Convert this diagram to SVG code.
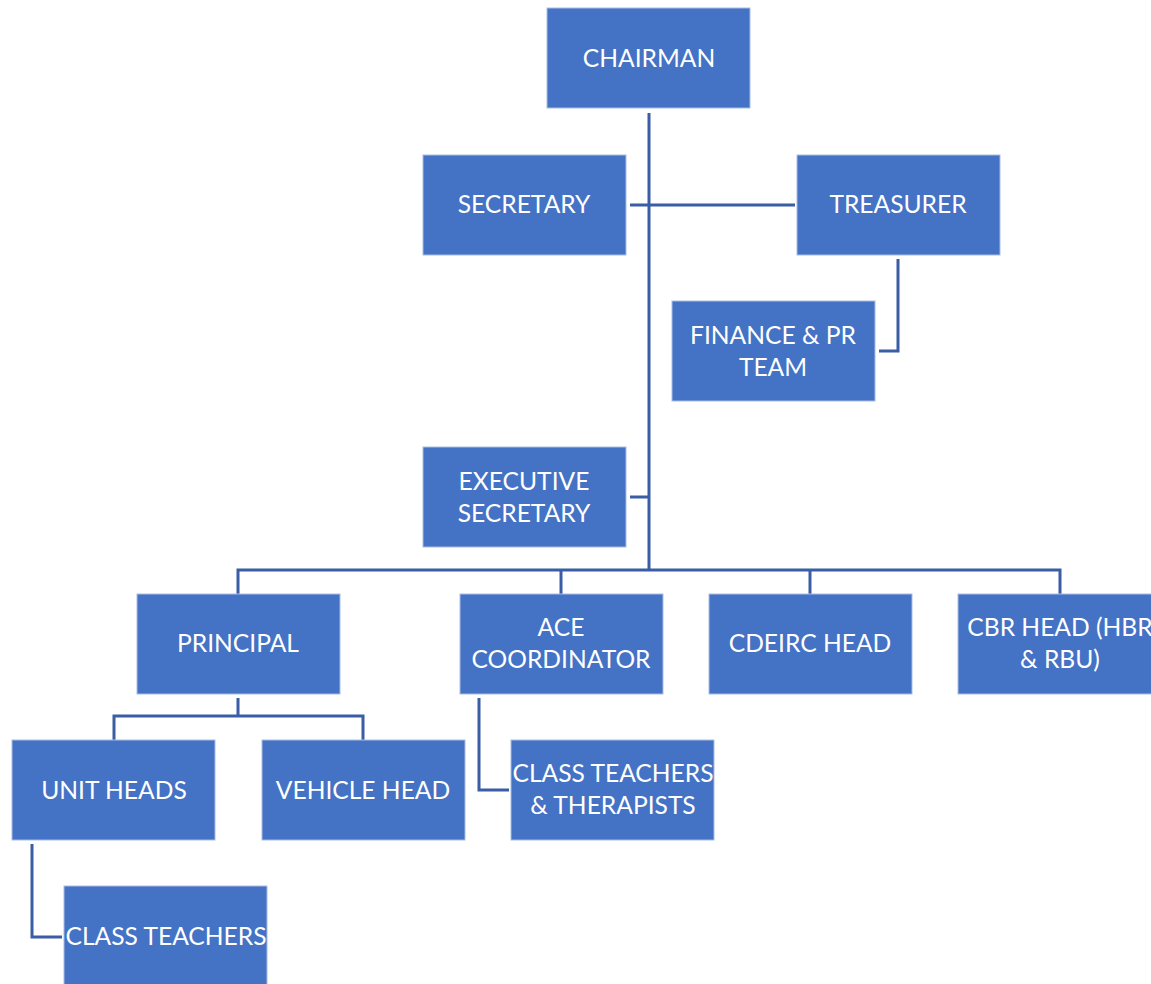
<svg xmlns="http://www.w3.org/2000/svg" width="1151" height="984" viewBox="0 0 1151 984">
<style>
.box{fill:#4472C4;stroke:#A9BDE3;stroke-width:1}
.t{font-family:Lato,"Liberation Sans",sans-serif;font-size:24.6px;fill:#FFFFFF;text-anchor:middle}
.c{fill:none;stroke:#3A5DA5;stroke-width:3}
</style>
<rect width="1151" height="984" fill="#FFFFFF"/>
<g id="connectors">
<path class="c" d="M649 113 V570"/>
<path class="c" d="M630 205 H795"/>
<path class="c" d="M898 259 V351 H879"/>
<path class="c" d="M630 497 H649"/>
<path class="c" d="M238 594 V570 H1060 V594"/>
<path class="c" d="M561 570 V594"/>
<path class="c" d="M810 570 V594"/>
<path class="c" d="M238 698 V716 M114 740 V716 H363 V740"/>
<path class="c" d="M479 698 V790 H509"/>
<path class="c" d="M32 844 V937 H62"/>
</g>
<g id="chairman"><rect class="box" x="547" y="8" width="203" height="100"/><text class="t" x="649" y="67">CHAIRMAN</text></g>
<g id="secretary"><rect class="box" x="423" y="155" width="203" height="100"/><text class="t" x="524" y="213">SECRETARY</text></g>
<g id="treasurer"><rect class="box" x="797" y="155" width="203" height="100"/><text class="t" x="898" y="213">TREASURER</text></g>
<g id="finance"><rect class="box" x="672" y="301" width="203" height="100"/><text class="t" x="773" y="344">FINANCE &amp; PR</text><text class="t" x="773" y="376">TEAM</text></g>
<g id="exec"><rect class="box" x="423" y="447" width="203" height="100"/><text class="t" x="524" y="490">EXECUTIVE</text><text class="t" x="524" y="522">SECRETARY</text></g>
<g id="principal"><rect class="box" x="137" y="594" width="203" height="100"/><text class="t" x="238" y="652">PRINCIPAL</text></g>
<g id="ace"><rect class="box" x="460" y="594" width="203" height="100"/><text class="t" x="561" y="636">ACE</text><text class="t" x="561" y="668">COORDINATOR</text></g>
<g id="cdeirc"><rect class="box" x="709" y="594" width="203" height="100"/><text class="t" x="810" y="652">CDEIRC HEAD</text></g>
<g id="cbr"><rect class="box" x="958" y="594" width="203" height="100"/><text class="t" x="1060" y="636">CBR HEAD (HBR</text><text class="t" x="1060" y="668">&amp; RBU)</text></g>
<g id="unitheads"><rect class="box" x="12" y="740" width="203" height="100"/><text class="t" x="114" y="799">UNIT HEADS</text></g>
<g id="vehicle"><rect class="box" x="262" y="740" width="203" height="100"/><text class="t" x="363" y="799">VEHICLE HEAD</text></g>
<g id="ctt"><rect class="box" x="511" y="740" width="203" height="100"/><text class="t" x="613" y="782">CLASS TEACHERS</text><text class="t" x="613" y="814">&amp; THERAPISTS</text></g>
<g id="classteachers"><rect class="box" x="64" y="886" width="203" height="100"/><text class="t" x="166" y="945">CLASS TEACHERS</text></g>
</svg>
